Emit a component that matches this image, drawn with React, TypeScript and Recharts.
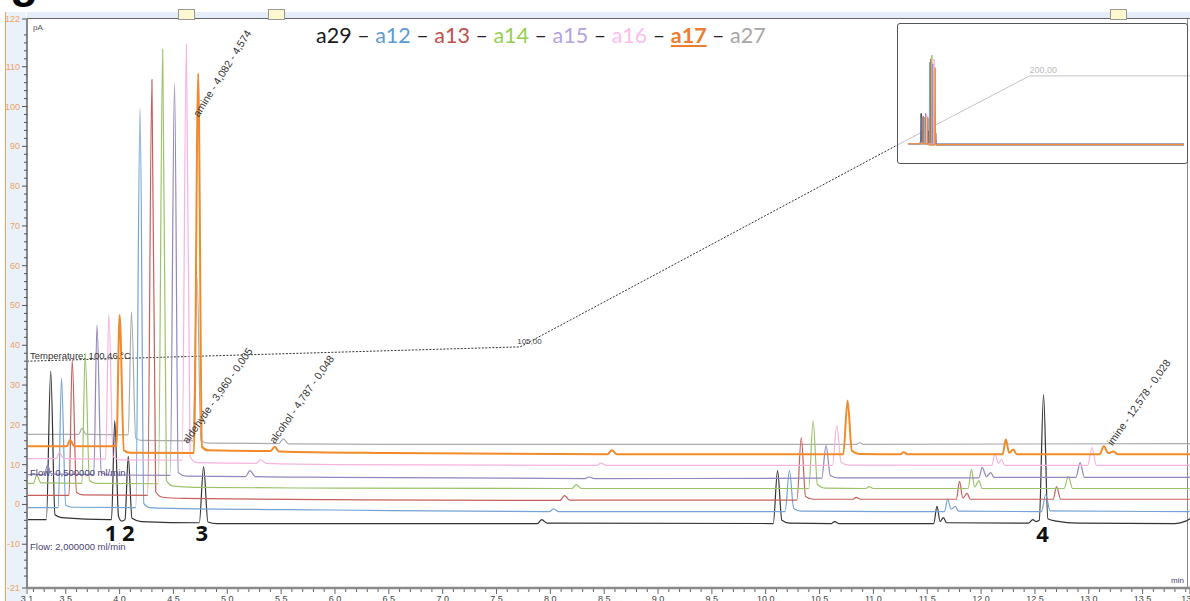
import { Line, LineChart, ReferenceDot, XAxis, YAxis } from "recharts";

const A29: [number, number][] = [
  [3.14, -3.8], [3.32, -3.8], [3.36, 33.5], [3.4, -2.6], [3.46, -3.3], [3.9, -3.8],
  [3.925, -3.8], [3.955, 21.1], [3.99, -3.0], [4.02, -4.2], [4.05, -3.8], [4.08, 12.1],
  [4.115, -3.5], [4.2, -4.3], [4.74, -4.6], [4.78, 9.5], [4.82, -4.4], [4.9, -4.8],
  [7.88, -4.8], [7.92, -3.8], [7.97, -4.7],
  [10.07, -4.8], [10.11, 8.5], [10.15, -4.0], [10.22, -4.7],
  [10.61, -4.8], [10.64, -4.3], [10.68, -4.8],
  [11.56, -4.8], [11.59, -0.5], [11.62, -4.3], [11.65, -3.3], [11.68, -4.6],
  [12.44, -4.7], [12.48, -3.8], [12.51, -4.3], [12.54, -4.0], [12.58, 27.6], [12.62, -3.6],
  [12.7, -4.2], [12.9, -4.7], [13.8, -4.8], [13.9, -4.2], [13.94, -3.6],
];
const A12: [number, number][] = [
  [3.14, -0.8], [3.43, -0.8], [3.46, 31.7], [3.5, -0.2], [3.56, -0.7], [4.15, -0.8],
  [4.19, 99.5], [4.225, 0.2], [4.28, -0.8], [4.5, -1.0], [6.0, -1.4],
  [7.99, -1.8], [8.03, -1.1], [8.08, -1.8],
  [10.18, -1.8], [10.22, 8.5], [10.26, -1.0], [10.33, -1.7],
  [11.66, -1.8], [11.69, 1.3], [11.72, -1.2], [11.76, -0.5], [11.79, -1.7],
  [12.56, -1.8], [12.6, 2.5], [12.64, -1.6], [13.94, -1.8],
];
const A13: [number, number][] = [
  [3.14, 2.3], [3.53, 2.3], [3.56, 36.3], [3.6, 3.0], [3.66, 2.4], [4.26, 2.3],
  [4.3, 106.8], [4.335, 3.2], [4.4, 1.8], [4.6, 1.5], [6.0, 1.2],
  [8.09, 1.0], [8.13, 2.2], [8.18, 1.1],
  [10.29, 1.1], [10.33, 16.8], [10.37, 2.0], [10.44, 1.3],
  [10.81, 1.3], [10.84, 1.8], [10.88, 1.3],
  [11.77, 1.3], [11.8, 5.8], [11.83, 1.6], [11.87, 2.8], [11.9, 1.3],
  [12.67, 1.3], [12.7, 4.5], [12.74, 1.3], [13.94, 1.3],
];
const A14: [number, number][] = [
  [3.14, 5.3], [3.2, 5.3], [3.23, 7.3], [3.27, 5.4], [3.65, 5.3], [3.68, 38.0],
  [3.72, 6.0], [3.78, 5.3], [4.36, 5.2], [4.4, 114.4], [4.435, 6.0], [4.5, 4.6],
  [4.7, 4.3], [6.0, 4.1],
  [8.2, 4.0], [8.24, 5.0], [8.29, 4.0],
  [10.4, 4.0], [10.44, 21.1], [10.48, 5.0], [10.55, 4.1],
  [10.93, 4.0], [10.96, 4.5], [11.0, 4.0],
  [11.88, 4.0], [11.91, 8.8], [11.94, 4.4], [11.98, 6.0], [12.01, 4.0],
  [12.77, 4.0], [12.81, 7.0], [12.85, 4.0], [13.94, 4.0],
];
const A15: [number, number][] = [
  [3.14, 7.5], [3.3, 7.5], [3.33, 9.8], [3.37, 7.6], [3.76, 7.5], [3.79, 45.0],
  [3.83, 8.0], [3.9, 7.4], [4.47, 7.3], [4.51, 105.8], [4.545, 8.0], [4.62, 7.1],
  [5.17, 7.0], [5.21, 8.5], [5.26, 7.0], [6.0, 6.8],
  [8.32, 6.5], [8.36, 6.9], [8.41, 6.5],
  [10.52, 6.6], [10.56, 14.8], [10.6, 7.3], [10.67, 6.7],
  [11.98, 6.7], [12.01, 9.3], [12.05, 7.0], [12.09, 8.0], [12.12, 6.8],
  [12.88, 6.8], [12.92, 10.5], [12.96, 6.8], [13.94, 6.8],
];
const A16: [number, number][] = [
  [3.14, 11.5], [3.41, 11.5], [3.44, 13.0], [3.48, 11.5], [3.87, 11.4], [3.9, 47.8],
  [3.94, 12.0], [4.0, 11.2], [4.58, 11.1], [4.62, 115.6], [4.655, 12.0], [4.72, 10.5],
  [5.27, 10.3], [5.31, 11.3], [5.36, 10.3], [6.0, 10.0],
  [8.43, 9.8], [8.47, 10.4], [8.52, 9.8],
  [10.62, 9.8], [10.66, 19.8], [10.7, 10.6], [10.77, 9.9],
  [12.1, 9.8], [12.13, 12.8], [12.16, 10.3], [12.19, 11.3], [12.22, 9.8],
  [12.99, 9.8], [13.03, 14.3], [13.07, 9.8], [13.94, 9.8],
];
const A17: [number, number][] = [
  [3.14, 14.6], [3.51, 14.6], [3.54, 16.2], [3.58, 14.6], [3.97, 14.6], [4.0, 47.6],
  [4.04, 13.6], [4.1, 13.0], [4.69, 12.9], [4.73, 108.3], [4.765, 14.5], [4.82, 13.6],
  [5.4, 13.4], [5.44, 14.5], [5.48, 13.3], [6.5, 12.9],
  [8.53, 12.6], [8.57, 13.6], [8.62, 12.6],
  [10.72, 12.6], [10.76, 26.1], [10.8, 13.5], [10.87, 12.7],
  [11.25, 12.6], [11.28, 13.1], [11.32, 12.6],
  [12.2, 12.6], [12.23, 16.3], [12.26, 13.0], [12.3, 13.8], [12.33, 12.6],
  [13.1, 12.6], [13.14, 14.6], [13.18, 12.9], [13.23, 13.3], [13.27, 12.6], [13.94, 12.6],
];
const A27: [number, number][] = [
  [3.14, 17.6], [3.62, 17.6], [3.65, 19.1], [3.69, 17.6], [4.08, 17.5], [4.11, 48.4],
  [4.15, 16.6], [4.2, 16.1], [4.68, 16.0], [4.72, 57.0], [4.755, 16.0], [4.82, 15.4],
  [5.48, 15.3], [5.52, 16.5], [5.57, 15.2], [6.5, 15.1],
  [10.84, 15.1], [10.87, 15.5], [10.91, 15.1], [13.94, 15.3],
];

// oven temperature trace (dotted), shown in pA units of the plot
const TEMP_DARK: [number, number][] = [[3.14, 36.0], [7.72, 39.6], [11.22, 90.3]];
const TEMP_LIGHT: [number, number][] = [[11.22, 90.3], [12.45, 107.7], [13.94, 107.7]];

// overview inset: whole run, only the solvent block stands out
const INSET_START = 2.1;
const INSET_END = 29.0;
const INSET_CUT = 5.0;

const X_MAJOR = [3.14, 3.5, 4, 4.5, 5, 5.5, 6, 6.5, 7, 7.5, 8, 8.5, 9, 9.5, 10, 10.5, 11, 11.5, 12, 12.5, 13, 13.5, 13.94];
const Y_MAJOR = [-21, -10, 0, 10, 20, 30, 40, 50, 60, 70, 80, 90, 100, 110, 122];

const SERIES = [
  { name: "a27", color: "#ababab", legend: "#a6a6a6", width: 1.2, pts: A27 },
  { name: "a29", color: "#333333", legend: "#1a1a1a", width: 1.2, pts: A29 },
  { name: "a12", color: "#74a3d6", legend: "#5b9bd5", width: 1.2, pts: A12 },
  { name: "a13", color: "#c65f5b", legend: "#c0504d", width: 1.2, pts: A13 },
  { name: "a14", color: "#9cc36a", legend: "#92d050", width: 1.2, pts: A14 },
  { name: "a15", color: "#9485bf", legend: "#b4a3e0", width: 1.2, pts: A15 },
  { name: "a16", color: "#f7b3de", legend: "#ffbdf0", width: 1.2, pts: A16 },
  { name: "a17", color: "#f28a2a", legend: "#ed7d31", width: 2, pts: A17 },
];
const LEGEND_ORDER = ["a29", "a12", "a13", "a14", "a15", "a16", "a17", "a27"];

const rows = (pts: [number, number][]) => pts.map(([t, v]) => ({ t, v }));

// inset draws the raw traces without the stacking offset
const insetRows = (pts: [number, number][]) => {
  const base = pts[0][1];
  const early = pts.filter(([t]) => t <= INSET_CUT);
  const last = early[early.length - 1][1];
  return [
    { t: INSET_START, v: 0 },
    ...early.map(([t, v]) => ({ t, v: v - base })),
    { t: INSET_END, v: last - base },
  ];
};

const xTicks: number[] = [...X_MAJOR];
for (let i = 32; i <= 139; i++) if (i % 5 !== 0) xTicks.push(i / 10);
xTicks.sort((a, b) => a - b);
const yTicks: number[] = [...Y_MAJOR];
for (let i = -20; i <= 120; i += 2) if (i % 10 !== 0) yTicks.push(i);
yTicks.sort((a, b) => a - b);

const XTick = ({ x, y, payload }: any) => {
  const major = X_MAJOR.includes(payload.value);
  return (
    <g>
      <line x1={x} x2={x} y1={y + 1} y2={y + (major ? 6 : 4)} stroke="#666" />
      {major && (
        <text x={x} y={y + 14} textAnchor="middle" fontSize={9} fill="#444" fontFamily="Arial, Liberation Sans">
          {payload.value.toFixed(1)}
        </text>
      )}
    </g>
  );
};

const YTick = ({ x, y, payload }: any) => {
  const major = Y_MAJOR.includes(payload.value);
  return (
    <g>
      <line x1={x - (major ? 5 : 3)} x2={x} y1={y} y2={y} stroke="#555" />
      {major && (
        <text x={x - 7} y={y} dy={3} textAnchor="end" fontSize={9} fill="#f2a35e" fontFamily="Arial, Liberation Sans">
          {payload.value}
        </text>
      )}
    </g>
  );
};

const note = (key: string, t: number, v: number, draw: (cx: number, cy: number) => JSX.Element) => (
  <ReferenceDot key={key} x={t} y={v} r={0} ifOverflow="visible" shape={(p: any) => draw(p.cx, p.cy)} />
);

const small = { fontFamily: "Arial, Liberation Sans", fontSize: 9.5 };
const rotated = (text: string, angle: number) => (cx: number, cy: number) => (
  <text x={cx} y={cy} transform={`rotate(${angle}, ${cx}, ${cy})`} fill="#333" {...small} fontSize={10.5}>
    {text}
  </text>
);
const bigNum = (text: string) => (cx: number, cy: number) => (
  <text x={cx} y={cy} textAnchor="middle" dominantBaseline="central" fontSize={22} fontWeight="bold"
    fontFamily="Open Sans, Liberation Sans" fill="#111">
    {text}
  </text>
);

export default function App() {
  return (
    <div style={{ position: "absolute", left: 0, top: 0, width: 1190, height: 601, overflow: "hidden", background: "#fff" }}>
      {/* panel chrome */}
      <div style={{ position: "absolute", left: 10, top: -46, fontSize: 46, fontWeight: "bold", fontFamily: "Arial, Liberation Sans" }}>g</div>
      <div style={{ position: "absolute", left: 5, top: 12, width: 20, height: 589, background: "#e9f1fb", borderLeft: "1.5px solid #f2a35e" }} />
      <div style={{ position: "absolute", left: 27, top: 12, width: 1163, height: 6, background: "#e4edf8", borderBottom: "1.5px solid #666" }} />
      {[178, 268, 1110].map((l) => (
        <div key={l} style={{ position: "absolute", left: l, top: 9, width: 15, height: 9, background: "#fdf8cf", border: "1px solid #999" }} />
      ))}
      <div style={{ position: "absolute", left: 1187, top: 19, width: 1, height: 569, background: "#888" }} />

      <div style={{ position: "absolute", left: 0, top: 0 }}>
        <LineChart width={1190} height={601} margin={{ top: 19, right: 0, bottom: 0, left: 0 }}>
          <XAxis dataKey="t" type="number" domain={[3.14, 13.94]} allowDataOverflow ticks={xTicks} interval={0}
            height={13} tickSize={0} tickMargin={0} tickLine={false} tick={<XTick />} axisLine={{ stroke: "#8a8a8a", strokeWidth: 2.5 }} />
          <YAxis type="number" domain={[-21, 122]} allowDataOverflow ticks={yTicks} interval={0}
            width={27} tickSize={0} tickMargin={0} tickLine={false} tick={<YTick />} axisLine={{ stroke: "#888", strokeWidth: 2 }} />
          <Line data={rows(TEMP_DARK)} dataKey="v" type="linear" stroke="#333" strokeWidth={1} strokeDasharray="2 1.5" dot={false} isAnimationActive={false} />
          <Line data={rows(TEMP_LIGHT)} dataKey="v" type="linear" stroke="#c4c4c4" strokeWidth={1} dot={false} isAnimationActive={false} />
          {SERIES.map((s) => (
            <Line key={s.name} data={rows(s.pts)} dataKey="v" type="monotone" stroke={s.color} strokeWidth={s.width}
              dot={false} isAnimationActive={false} />
          ))}
          {note("pA", 3.14, 122, (cx, cy) => <text x={cx + 6} y={cy + 11} fill="#555" {...small} fontSize={8}>pA</text>)}
          {note("min", 13.94, -21, (cx, cy) => <text x={cx - 6} y={cy - 5} textAnchor="end" fill="#4a3f70" {...small} fontSize={8}>min</text>)}
          {note("temp", 3.14, 36.0, (cx, cy) => <text x={cx + 3} y={cy - 2} fill="#333" {...small}>Temperature: 100,46 °C</text>)}
          {note("t105", 7.72, 39.6, (cx, cy) => <text x={cx - 3} y={cy - 3} fill="#444" {...small} fontSize={8}>105,00</text>)}
          {note("t200", 12.45, 107.7, (cx, cy) => <text x={cx} y={cy - 3} fill="#bcbcbc" {...small} fontSize={9}>200,00</text>)}
          {note("flow1", 3.14, 8.0, (cx, cy) => <text x={cx + 3} y={cy + 3} fill="#4a3f70" {...small}>Flow: 0,500000 ml/min</text>)}
          {note("flow2", 3.14, -10.6, (cx, cy) => <text x={cx + 3} y={cy + 3} fill="#4a3f70" {...small}>Flow: 2,000000 ml/min</text>)}
          {note("amine", 4.735, 97.2, rotated("amine - 4,082 - 4,574", -58))}
          {note("aldehyde", 4.633, 15.1, rotated("aldehyde - 3,960 - 0,005", -55))}
          {note("alcohol", 5.44, 15.1, rotated("alcohol - 4,787 - 0,048", -55))}
          {note("imine", 13.22, 14.6, rotated("imine - 12,578 - 0,028", -55))}
          {note("n1", 3.92, -6.9, bigNum("1"))}
          {note("n2", 4.08, -6.9, bigNum("2"))}
          {note("n3", 4.763, -6.9, bigNum("3"))}
          {note("n4", 12.57, -7.2, bigNum("4"))}
        </LineChart>
      </div>

      {/* overview inset */}
      <div style={{ position: "absolute", left: 897, top: 23, width: 289, height: 139, border: "1px solid #555", borderRadius: 3 }}>
        <LineChart width={289} height={139} margin={{ top: 6, right: 0, bottom: 3, left: 0 }}>
          <XAxis dataKey="t" type="number" domain={[1.1, 29.3]} hide />
          <YAxis type="number" domain={[-20, 140]} hide />
          {SERIES.map((s) => (
            <Line key={s.name} data={insetRows(s.pts)} dataKey="v" type="linear" stroke={s.color} strokeWidth={1}
              dot={false} isAnimationActive={false} />
          ))}
        </LineChart>
      </div>

      {/* sample legend */}
      <div style={{ position: "absolute", left: 316, top: 22, fontFamily: "Lato, Open Sans", fontSize: 21.5, whiteSpace: "nowrap" }}>
        {LEGEND_ORDER.map((n, i) => {
          const s = SERIES.find((x) => x.name === n)!;
          return (
            <span key={n}>
              {i > 0 && <span style={{ color: "#222" }}> – </span>}
              <span style={{ color: s.legend, fontWeight: n === "a17" ? "bold" : "normal", textDecoration: n === "a17" ? "underline" : "none" }}>
                {n}
              </span>
            </span>
          );
        })}
      </div>
    </div>
  );
}
